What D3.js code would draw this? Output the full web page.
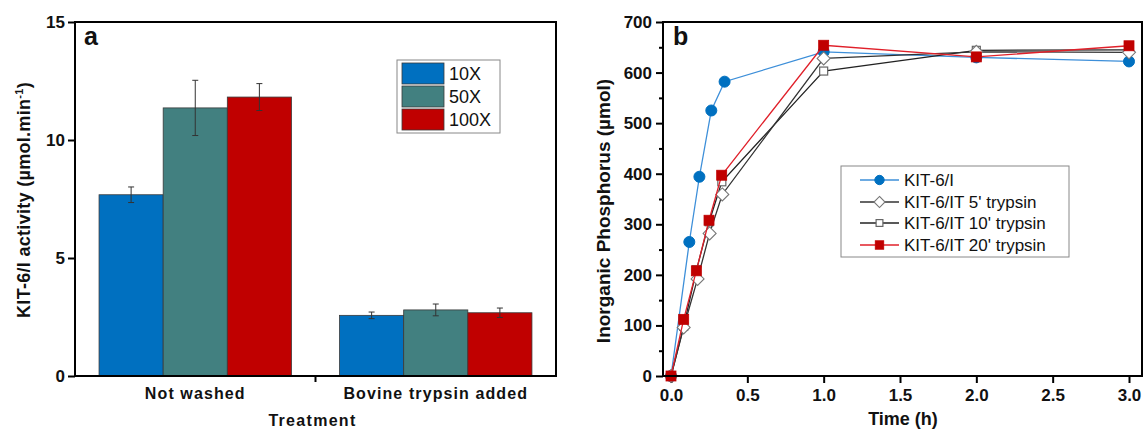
<!DOCTYPE html>
<html><head><meta charset="utf-8">
<script src="https://cdn.jsdelivr.net/npm/d3@7"></script>
<style>
html,body{margin:0;padding:0;background:#fff;}
svg{display:block;font-family:"Liberation Sans",Arial,sans-serif;}
</style></head>
<body>
<svg id="chart" width="1143" height="433"></svg>
<script>
// ---------- Panel a data ----------
const categories = ["Not washed", "Bovine trypsin added"];
const barSeries = ["10X", "50X", "100X"];
const values10X = [7.68, 2.57];
const err10X = [0.33, 0.14];
const values50X = [11.36, 2.80];
const err50X = [1.17, 0.25];
const values100X = [11.82, 2.68];
const err100X = [0.57, 0.20];
const barColors = ["#0070C0", "#428080", "#C00000"];
const yTicksA = [0, 5, 10, 15];

// ---------- Panel b data ----------
const lineSeries = ["KIT-6/I", "KIT-6/IT 5' trypsin", "KIT-6/IT 10' trypsin", "KIT-6/IT 20' trypsin"];
const timeI = [0, 0.12, 0.186, 0.264, 0.351, 1, 2, 3];
const phosI = [0, 265, 394, 525, 582, 641, 630, 622];
const time5 = [0, 0.083, 0.174, 0.253, 0.336, 1, 2, 3];
const phos5 = [0, 96, 192, 282, 359, 628, 641, 640];
const time10 = [0, 0.083, 0.167, 0.25, 0.333, 1, 2, 3];
const phos10 = [0, 98, 210, 305, 384, 603, 644, 645];
const time20 = [0, 0.083, 0.166, 0.249, 0.332, 1, 2, 3];
const phos20 = [0, 112, 208, 308, 397, 654, 631, 653];
const xTicksB = [0, 0.5, 1.0, 1.5, 2.0, 2.5, 3.0];
const yTicksB = [0, 100, 200, 300, 400, 500, 600, 700];

const svg = d3.select("#chart");

// ================= Panel a =================
const A = {left: 75, right: 556, top: 22, bottom: 376};
const gA = svg.append("g");
const x0 = d3.scaleBand().domain(categories).range([A.left, A.right]).padding(0);
const x1 = d3.scaleBand().domain(barSeries)
  .range([x0.bandwidth() * 0.1, x0.bandwidth() * 0.9]).padding(0);
const yA = d3.scaleLinear().domain([0, 15]).range([A.bottom, A.top]);

const barVals = [values10X, values50X, values100X];
const barErrs = [err10X, err50X, err100X];
const barData = [];
categories.forEach((c, ci) => barSeries.forEach((s, si) => {
  barData.push({cat: c, ser: s, v: barVals[si][ci], e: barErrs[si][ci], col: barColors[si]});
}));

gA.selectAll("rect.bar").data(barData).enter().append("rect")
  .attr("class", "bar")
  .attr("x", d => x0(d.cat) + x1(d.ser))
  .attr("width", x1.bandwidth())
  .attr("y", d => yA(d.v))
  .attr("height", d => yA(0) - yA(d.v))
  .attr("fill", d => d.col)
  .attr("stroke", "#3a3a3a").attr("stroke-width", 0.8);

// error bars
const eb = gA.selectAll("g.err").data(barData).enter().append("g")
  .attr("stroke", "#333").attr("stroke-width", 1);
eb.append("line")
  .attr("x1", d => x0(d.cat) + x1(d.ser) + x1.bandwidth() / 2)
  .attr("x2", d => x0(d.cat) + x1(d.ser) + x1.bandwidth() / 2)
  .attr("y1", d => yA(d.v + d.e)).attr("y2", d => yA(d.v - d.e));
["+", "-"].forEach(sgn => {
  eb.append("line")
    .attr("x1", d => x0(d.cat) + x1(d.ser) + x1.bandwidth() / 2 - 3)
    .attr("x2", d => x0(d.cat) + x1(d.ser) + x1.bandwidth() / 2 + 3)
    .attr("y1", d => yA(sgn === "+" ? d.v + d.e : d.v - d.e))
    .attr("y2", d => yA(sgn === "+" ? d.v + d.e : d.v - d.e));
});

// frame
gA.append("rect").attr("x", A.left).attr("y", A.top)
  .attr("width", A.right - A.left).attr("height", A.bottom - A.top)
  .attr("fill", "none").attr("stroke", "#000").attr("stroke-width", 2);

// y axis
const yAxisA = d3.axisLeft(yA).tickValues(yTicksA).tickSize(7).tickPadding(3).tickFormat(d3.format("d"));
gA.append("g").attr("transform", `translate(${A.left},0)`).call(yAxisA)
  .call(g => g.select(".domain").remove())
  .call(g => g.selectAll("line").attr("stroke", "#000").attr("stroke-width", 2))
  .call(g => g.selectAll("text").attr("font-size", 17).attr("font-weight", "bold")
    .attr("font-family", "Liberation Sans, Arial").attr("fill", "#111"));

// x axis
const xAxisA = d3.axisBottom(x0).tickSize(0).tickPadding(12);
gA.append("g").attr("transform", `translate(0,${A.bottom})`).call(xAxisA)
  .call(g => g.select(".domain").remove())
  .call(g => g.selectAll("text").attr("font-size", 16).attr("font-weight", "bold")
    .attr("letter-spacing", "1.1px").attr("font-family", "Liberation Sans, Arial").attr("fill", "#111"));
// tick between categories
gA.append("line").attr("x1", x0(categories[1])).attr("x2", x0(categories[1]))
  .attr("y1", A.bottom).attr("y2", A.bottom + 6).attr("stroke", "#000").attr("stroke-width", 2);

gA.append("text").attr("x", (A.left + A.right) / 2 - 3).attr("y", 426)
  .attr("text-anchor", "middle").attr("font-size", 16).attr("font-weight", "bold")
  .attr("letter-spacing", "1.3px").attr("fill", "#111").text("Treatment");

const ylabA = gA.append("text")
  .attr("transform", `translate(30,${(A.top + A.bottom) / 2 + 1}) rotate(-90)`)
  .attr("text-anchor", "middle").attr("font-size", 18).attr("font-weight", "bold")
  .attr("letter-spacing", "0.3px").attr("fill", "#111");
ylabA.append("tspan").text("KIT-6/I activity (\u00b5mol.min");
ylabA.append("tspan").attr("font-size", 11).attr("dy", -7).text("-1");
ylabA.append("tspan").attr("dy", 7).text(")");

gA.append("text").attr("x", 84).attr("y", 45).attr("font-size", 25)
  .attr("font-weight", "bold").attr("fill", "#111").text("a");

// legend a
const legA = gA.append("g").attr("transform", "translate(397,60)");
legA.append("rect").attr("width", 103).attr("height", 73)
  .attr("fill", "#fff").attr("stroke", "#888").attr("stroke-width", 1);
barSeries.forEach((s, i) => {
  legA.append("rect").attr("x", 5).attr("y", 3 + i * 23).attr("width", 42).attr("height", 21)
    .attr("fill", barColors[i]).attr("stroke", "#3a3a3a").attr("stroke-width", 0.8);
  legA.append("text").attr("x", 52).attr("y", 3 + i * 23 + 17).attr("font-size", 18)
    .attr("fill", "#111").text(s);
});

// ================= Panel b =================
const B = {left: 663, right: 1142, top: 22, bottom: 376};
const gB = svg.append("g");
const xB = d3.scaleLinear().domain([0, 3]).range([671, 1129]);
const yB = d3.scaleLinear().domain([0, 700]).range([B.bottom, B.top]);

// minor y ticks
const yMinorB = d3.range(50, 700, 100);
gB.append("g").attr("transform", `translate(${B.left},0)`)
  .call(d3.axisLeft(yB).tickValues(yMinorB).tickSize(4).tickFormat(""))
  .call(g => g.select(".domain").remove())
  .call(g => g.selectAll("line").attr("stroke", "#000").attr("stroke-width", 2));
gB.append("g").attr("transform", `translate(${B.left},0)`)
  .call(d3.axisLeft(yB).tickValues(yTicksB).tickSize(7).tickPadding(4).tickFormat(d3.format("d")))
  .call(g => g.select(".domain").remove())
  .call(g => g.selectAll("line").attr("stroke", "#000").attr("stroke-width", 2))
  .call(g => g.selectAll("text").attr("font-size", 17).attr("font-weight", "bold").attr("fill", "#111")
    .attr("font-family", "Liberation Sans, Arial"));
gB.append("g").attr("transform", `translate(0,${B.bottom})`)
  .call(d3.axisBottom(xB).tickValues(xTicksB).tickSize(7).tickPadding(6).tickFormat(d3.format(".1f")))
  .call(g => g.select(".domain").remove())
  .call(g => g.selectAll("line").attr("stroke", "#000").attr("stroke-width", 2))
  .call(g => g.selectAll("text").attr("font-size", 17).attr("font-weight", "bold").attr("fill", "#111")
    .attr("font-family", "Liberation Sans, Arial"));

const lineDefs = [
  {name: lineSeries[0], t: timeI, p: phosI, line: "#3d8fd9", mk: "circle", fill: "#0070C0", stroke: "#0070C0"},
  {name: lineSeries[2], t: time10, p: phos10, line: "#222", mk: "square", fill: "#fff", stroke: "#666"},
  {name: lineSeries[1], t: time5, p: phos5, line: "#333", mk: "diamond", fill: "#fff", stroke: "#777"},
  {name: lineSeries[3], t: time20, p: phos20, line: "#e0202a", mk: "square", fill: "#C00000", stroke: "#C00000"}
];

const lineGen = d3.line().x(d => xB(d[0])).y(d => yB(d[1]));
function marker(g, type, cx, cy, fill, stroke, open, k) {
  k = k || 1;
  if (type === "circle") {
    g.append("circle").attr("cx", cx).attr("cy", cy).attr("r", 5.5 * k).attr("fill", fill).attr("stroke", stroke);
  } else if (type === "square") {
    const s = (open ? 8 : 10) * k;
    g.append("rect").attr("x", cx - s / 2).attr("y", cy - s / 2).attr("width", s).attr("height", s)
      .attr("fill", fill).attr("stroke", stroke).attr("stroke-width", open ? 1.2 : 0.8);
  } else {
    const r = 6.5 * k;
    g.append("path").attr("d", `M${cx},${cy - r}L${cx + r},${cy}L${cx},${cy + r}L${cx - r},${cy}Z`)
      .attr("fill", fill).attr("stroke", stroke).attr("stroke-width", 1.1);
  }
}

lineDefs.forEach(s => {
  const pts = s.t.map((t, i) => [t, s.p[i]]);
  const g = gB.append("g");
  g.append("path").attr("d", lineGen(pts)).attr("fill", "none")
    .attr("stroke", s.line).attr("stroke-width", 1.3);
  pts.forEach(p => marker(g, s.mk, xB(p[0]), yB(p[1]), s.fill, s.stroke, s.fill === "#fff"));
});

// frame b
gB.append("rect").attr("x", B.left).attr("y", B.top)
  .attr("width", B.right - B.left).attr("height", B.bottom - B.top)
  .attr("fill", "none").attr("stroke", "#000").attr("stroke-width", 2);

gB.append("text").attr("x", 673).attr("y", 45).attr("font-size", 25)
  .attr("font-weight", "bold").attr("fill", "#111").text("b");

gB.append("text").attr("x", 903).attr("y", 425).attr("text-anchor", "middle")
  .attr("font-size", 18).attr("font-weight", "bold").attr("fill", "#111").text("Time (h)");
gB.append("text").attr("transform", `translate(610,211) rotate(-90)`)
  .attr("text-anchor", "middle").attr("font-size", 19).attr("font-weight", "bold")
  .attr("fill", "#111").text("Inorganic Phosphorus (\u00b5mol)");

// legend b
const legB = gB.append("g").attr("transform", "translate(841,166)");
legB.append("rect").attr("width", 228).attr("height", 91)
  .attr("fill", "#fff").attr("stroke", "#888").attr("stroke-width", 1);
const legOrder = [lineDefs[0], lineDefs[2], lineDefs[1], lineDefs[3]];
const legY = [14, 36, 57, 79];
legOrder.forEach((s, i) => {
  const y = legY[i];
  legB.append("line").attr("x1", 19).attr("x2", 58).attr("y1", y).attr("y2", y)
    .attr("stroke", s.line).attr("stroke-width", 1.3);
  marker(legB, s.mk, 38.5, y, s.fill, s.stroke, s.fill === "#fff", 0.85);
  legB.append("text").attr("x", 63).attr("y", y + 6).attr("font-size", 17)
    .attr("fill", "#111").text(s.name);
});
</script>
</body></html>
